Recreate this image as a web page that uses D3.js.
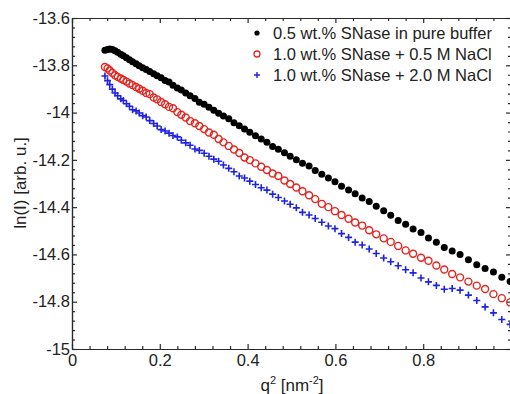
<!DOCTYPE html>
<html>
<head>
<meta charset="utf-8">
<script src="https://cdn.jsdelivr.net/npm/d3@7"></script>
<style>
  body { margin: 0; background: #fff; }
  svg { display: block; font-family: "Liberation Sans", Arial, Helvetica, sans-serif; }
  .axis path, .axis line { stroke: #2a2a2a; stroke-width: 1.2; }
  .axis text { fill: #222; font-size: 16.5px; font-family: "Liberation Sans", Arial, sans-serif; }
</style>
</head>
<body>
<svg width="510" height="394"></svg>
<script>
// q^2 values [nm^-2] shared by all three curves
var q2 = [0.075, 0.081, 0.086, 0.092, 0.098, 0.104, 0.111, 0.117, 0.124, 0.131,
          0.138, 0.146, 0.153, 0.161, 0.169, 0.177, 0.186, 0.194, 0.203, 0.212,
          0.221, 0.230, 0.240, 0.249, 0.259, 0.269, 0.280, 0.290, 0.301, 0.312,
          0.323, 0.334, 0.345, 0.357, 0.369, 0.381, 0.393, 0.405, 0.418, 0.431,
          0.444, 0.457, 0.470, 0.484, 0.497, 0.511, 0.525, 0.540, 0.554, 0.569,
          0.584, 0.599, 0.614, 0.630, 0.645, 0.661, 0.677, 0.693, 0.710, 0.726,
          0.743, 0.760, 0.777, 0.795, 0.812, 0.830, 0.848, 0.866, 0.884, 0.903,
          0.922, 0.941, 0.960, 0.979, 0.998];

// 0.5 wt.% SNase in pure buffer
var lnBuffer = [-13.736, -13.733, -13.731, -13.733, -13.738, -13.745, -13.753, -13.760, -13.768, -13.777,
                -13.785, -13.794, -13.802, -13.810, -13.818, -13.826, -13.836, -13.844, -13.853, -13.864,
                -13.871, -13.884, -13.896, -13.905, -13.917, -13.929, -13.941, -13.956, -13.965, -13.978,
                -13.990, -14.003, -14.015, -14.026, -14.043, -14.056, -14.070, -14.083, -14.098, -14.112,
                -14.126, -14.144, -14.155, -14.170, -14.185, -14.200, -14.214, -14.226, -14.245, -14.261,
                -14.277, -14.293, -14.312, -14.327, -14.343, -14.361, -14.376, -14.396, -14.415, -14.434,
                -14.457, -14.472, -14.492, -14.507, -14.530, -14.548, -14.571, -14.585, -14.600, -14.622,
                -14.644, -14.659, -14.674, -14.697, -14.715];

// 1.0 wt.% SNase + 0.5 M NaCl
var lnNaCl05 = [-13.807, -13.813, -13.822, -13.832, -13.842, -13.849, -13.856, -13.862, -13.869, -13.877,
                -13.884, -13.892, -13.899, -13.908, -13.917, -13.922, -13.936, -13.944, -13.955, -13.965,
                -13.976, -13.982, -13.998, -14.009, -14.021, -14.036, -14.045, -14.057, -14.070, -14.084,
                -14.094, -14.112, -14.126, -14.141, -14.156, -14.171, -14.190, -14.201, -14.215, -14.229,
                -14.243, -14.258, -14.268, -14.287, -14.302, -14.317, -14.333, -14.350, -14.366, -14.386,
                -14.400, -14.417, -14.433, -14.449, -14.465, -14.478, -14.498, -14.515, -14.532, -14.547,
                -14.564, -14.583, -14.597, -14.614, -14.627, -14.647, -14.664, -14.683, -14.697, -14.715,
                -14.732, -14.746, -14.768, -14.785, -14.803];

// 1.0 wt.% SNase + 2.0 M NaCl
var lnNaCl20 = [-13.845, -13.865, -13.882, -13.901, -13.917, -13.929, -13.942, -13.949, -13.963, -13.973,
                -13.988, -13.993, -14.002, -14.013, -14.019, -14.034, -14.046, -14.057, -14.072, -14.078,
                -14.087, -14.097, -14.103, -14.117, -14.128, -14.138, -14.154, -14.160, -14.172, -14.185,
                -14.197, -14.206, -14.222, -14.236, -14.250, -14.268, -14.277, -14.290, -14.304, -14.318,
                -14.328, -14.345, -14.359, -14.374, -14.388, -14.403, -14.422, -14.433, -14.448, -14.464,
                -14.480, -14.491, -14.512, -14.528, -14.548, -14.560, -14.577, -14.596, -14.615, -14.631,
                -14.648, -14.665, -14.678, -14.700, -14.716, -14.731, -14.747, -14.744, -14.751, -14.772,
                -14.795, -14.822, -14.847, -14.875, -14.896];

var legendLabels = ["0.5 wt.% SNase in pure buffer",
                    "1.0 wt.% SNase + 0.5 M NaCl",
                    "1.0 wt.% SNase + 2.0 M NaCl"];

var xTicks = [0, 0.2, 0.4, 0.6, 0.8];
var yTicks = [-13.6, -13.8, -14, -14.2, -14.4, -14.6, -14.8, -15];

// plot box
var margin = {top: 18, right: -1, bottom: 45, left: 72},
    W = 510, H = 394,
    width = W - margin.left - margin.right,
    height = H - margin.top - margin.bottom;

var svg = d3.select("svg");
var g = svg.append("g")
    .attr("transform", "translate(" + margin.left + "," + margin.top + ")");

var x = d3.scaleLinear().domain([0, 1]).range([0, width]);
var y = d3.scaleLinear().domain([-15, -13.6]).range([height, 0]);

var xMinor = d3.range(0.04, 1, 0.04).filter(function(v) { return Math.abs(v / 0.2 - Math.round(v / 0.2)) > 1e-6; });
var yMinor = d3.range(-13.64, -15, -0.04).filter(function(v) { return Math.abs(v / 0.2 - Math.round(v / 0.2)) > 1e-6; });

// plain hyphen minus like the original (d3.format would give a unicode minus)
function fmt(d) { return String(+d.toFixed(1)); }

// minor ticks (all four sides, pointing inward)
g.append("g").attr("class", "axis").attr("transform", "translate(0," + height + ")")
  .call(d3.axisBottom(x).tickValues(xMinor).tickSizeInner(-3).tickSizeOuter(0).tickFormat(""));
g.append("g").attr("class", "axis")
  .call(d3.axisTop(x).tickValues(xMinor).tickSizeInner(-3).tickSizeOuter(0).tickFormat(""));
g.append("g").attr("class", "axis")
  .call(d3.axisLeft(y).tickValues(yMinor).tickSizeInner(-3).tickSizeOuter(0).tickFormat(""));
g.append("g").attr("class", "axis").attr("transform", "translate(" + width + ",0)")
  .call(d3.axisRight(y).tickValues(yMinor).tickSizeInner(-3).tickSizeOuter(0).tickFormat(""));

// major ticks + labels
g.append("g").attr("class", "axis").attr("transform", "translate(0," + height + ")")
  .call(d3.axisBottom(x).tickValues(xTicks.concat([1])).tickSizeInner(-5).tickSizeOuter(0)
        .tickPadding(5).tickFormat(function(d) { return d === 1 ? "" : fmt(d); }));
g.append("g").attr("class", "axis")
  .call(d3.axisTop(x).tickValues(xTicks).tickSizeInner(-5).tickSizeOuter(0).tickFormat(""));
g.append("g").attr("class", "axis")
  .call(d3.axisLeft(y).tickValues(yTicks).tickSizeInner(-5).tickSizeOuter(0)
        .tickPadding(2).tickFormat(fmt));
g.append("g").attr("class", "axis").attr("transform", "translate(" + width + ",0)")
  .call(d3.axisRight(y).tickValues(yTicks).tickSizeInner(-5).tickSizeOuter(0).tickFormat(""));

// data
var rows = q2.map(function(q, i) {
  return {q: q, a: lnBuffer[i], b: lnNaCl05[i], c: lnNaCl20[i]};
});

g.append("g").selectAll("circle").data(rows).enter().append("circle")
  .attr("cx", function(d) { return x(d.q); })
  .attr("cy", function(d) { return y(d.a); })
  .attr("r", 3.5)
  .attr("fill", "#000");

g.append("g").selectAll("circle").data(rows).enter().append("circle")
  .attr("cx", function(d) { return x(d.q); })
  .attr("cy", function(d) { return y(d.b); })
  .attr("r", 3.5)
  .attr("fill", "none")
  .attr("stroke", "#e3241f")
  .attr("stroke-width", 1.4);

var plus = "M-3.5,0H3.5M0,-3.5V3.5";
g.append("g").selectAll("path").data(rows).enter().append("path")
  .attr("d", plus)
  .attr("transform", function(d) { return "translate(" + x(d.q) + "," + y(d.c) + ")"; })
  .attr("fill", "none")
  .attr("stroke", "#1f22e0")
  .attr("stroke-width", 1.6);

// legend
var leg = svg.append("g").attr("transform", "translate(257,33)");
var rowH = 21;
leg.append("circle").attr("cx", 0).attr("cy", 0).attr("r", 2.6).attr("fill", "#000");
leg.append("circle").attr("cx", 0).attr("cy", rowH).attr("r", 3).attr("fill", "none")
  .attr("stroke", "#e3241f").attr("stroke-width", 1.3);
leg.append("path").attr("d", "M-3,0H3M0,-3V3").attr("transform", "translate(0," + 2 * rowH + ")")
  .attr("stroke", "#1f22e0").attr("stroke-width", 1.4);
leg.selectAll("text").data(legendLabels).enter().append("text")
  .attr("x", 16)
  .attr("y", function(d, i) { return i * rowH; })
  .attr("dy", "0.36em")
  .attr("font-size", "16.5px")
  .attr("fill", "#222")
  .text(function(d) { return d; });

// axis titles
svg.append("text")
  .attr("transform", "translate(26,183) rotate(-90)")
  .attr("text-anchor", "middle")
  .attr("font-size", "17px")
  .attr("fill", "#222")
  .text("ln(I) [arb. u.]");

var xt = svg.append("text")
  .attr("x", 292).attr("y", 391)
  .attr("text-anchor", "middle")
  .attr("font-size", "17px")
  .attr("fill", "#222");
xt.append("tspan").text("q");
xt.append("tspan").attr("dy", -7).attr("font-size", "11px").text("2");
xt.append("tspan").attr("dy", 7).text(" [nm");
xt.append("tspan").attr("dy", -7).attr("font-size", "11px").text("-2");
xt.append("tspan").attr("dy", 7).text("]");
</script>
</body>
</html>
